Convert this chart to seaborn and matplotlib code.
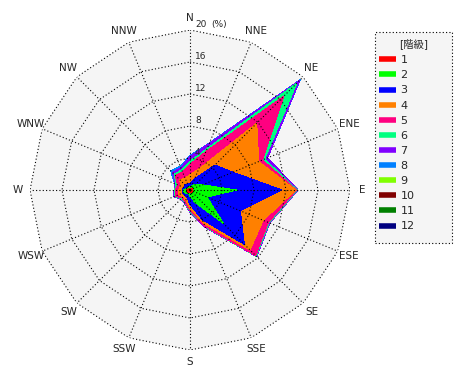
import numpy as np
import matplotlib
matplotlib.use("Agg")
import matplotlib.pyplot as plt
from matplotlib.lines import Line2D
from matplotlib.patches import Rectangle
import seaborn as sns

# 16 wind directions, clockwise from north
directions = ['N', 'NNE', 'NE', 'ENE', 'E', 'ESE', 'SE', 'SSE',
              'S', 'SSW', 'SW', 'WSW', 'W', 'WNW', 'NW', 'NNW']

# frequency (%) per class (stacked outward)
cls1 = [0.2, 0.2, 0.3, 0.3, 0.3, 0.3, 0.3, 0.3, 0.3, 0.3, 0.4, 0.5, 0.5, 0.3, 0.2, 0.2]
cls2 = [0.2, 0.4, 0.7, 1.4, 5.5, 2.0, 5.6, 1.4, 0.5, 0.2, 0.2, 0.3, 0.3, 0.2, 0.2, 0.2]
cls3 = [0.4, 0.9, 3.4, 4.1, 5.7, 4.5, 3.7, 2.3, 1.0, 0.5, 0.3, 0.2, 0.2, 0.3, 0.5, 0.4]
cls4 = [1.1, 1.3, 7.4, 3.5, 1.7, 3.1, 1.0, 0.5, 0.5, 0.4, 0.3, 0.5, 0.4, 0.5, 0.9, 0.8]
cls5 = [1.3, 2.4, 4.8, 0.5, 0.1, 0.7, 1.0, 0.4, 0.3, 0.2, 0.2, 0.5, 0.4, 0.4, 0.8, 0.8]
cls6 = [0.4, 0.4, 2.3, 0.3, 0.1, 0.1, 0.1, 0.1, 0.1, 0.1, 0.1, 0.1, 0.1, 0.2, 0.2, 0.3]
cls7 = [0.6, 0.7, 0.5, 0.4, 0.1, 0.1, 0.1, 0.1, 0.1, 0.1, 0.1, 0.1, 0.1, 0.1, 0.3, 0.3]
cls8 = [0.1, 0.1, 0.1, 0.0, 0.0, 0.0, 0.0, 0.0, 0.0, 0.0, 0.0, 0.0, 0.0, 0.1, 0.3, 0.2]
cls9 = [0.0] * 16
cls10 = [0.0] * 16
cls11 = [0.0] * 16
cls12 = [0.0] * 16

classes = ['1', '2', '3', '4', '5', '6', '7', '8', '9', '10', '11', '12']
freqs = [cls1, cls2, cls3, cls4, cls5, cls6, cls7, cls8, cls9, cls10, cls11, cls12]
colors = ['#ff0000', '#00ff00', '#0000ff', '#ff8000', '#ff0080', '#00ff80',
          '#8000ff', '#0080ff', '#80ff00', '#800000', '#008000', '#000080']
rings = [4, 8, 12, 16, 20]

sns.set_style("white")
plt.rcParams['font.family'] = ['DejaVu Sans', 'Noto Sans CJK JP']

fig = plt.figure(figsize=(4.7, 3.8), dpi=100)
ax = fig.add_axes([30 / 470, 30 / 380, 320 / 470, 320 / 380], projection='polar')
ax.set_theta_zero_location('N')
ax.set_theta_direction(-1)
ax.set_facecolor('none')
ax.grid(False)
ax.set_xticks([])
ax.set_yticks([])
ax.spines['polar'].set_visible(False)
ax.set_ylim(0, 20)

theta = np.deg2rad(np.arange(16) * 22.5)
theta_c = np.append(theta, theta[0])

# light grey plot area inside the outer ring
ax.fill(theta_c, [rings[-1]] * 17, color='#f5f5f5', lw=0, zorder=0)

# stacked polygons, outermost class drawn first
cum = np.cumsum(np.array(freqs), axis=0)
for i in range(len(classes) - 1, -1, -1):
    r = np.append(cum[i], cum[i][0])
    ax.fill(theta_c, r, color=colors[i], lw=0, zorder=1, antialiased=False)

# polygonal dotted grid
dots = (0, (1, 2))
for rv in rings:
    ax.plot(theta_c, [rv] * 17, color='black', lw=0.8, ls=dots, zorder=3)
for t in theta:
    ax.plot([t, t], [0, rings[-1]], color='black', lw=0.8, ls=dots, zorder=3)

for t, d in zip(theta, directions):
    ax.text(t, 21.5, d, ha='center', va='center', fontsize=7.5, clip_on=False)

for rv in rings:
    ax.annotate(str(rv), xy=(0, rv), xytext=(5, 1), textcoords='offset pixels',
                ha='left', va='bottom', fontsize=6.5, annotation_clip=False, zorder=4)
ax.annotate('(%)', xy=(0, 20), xytext=(21, 1), textcoords='offset pixels',
            ha='left', va='bottom', fontsize=6.5, annotation_clip=False)

# legend box
fig.patches.append(Rectangle((375 / 470, 1 - 243 / 380), 77 / 470, 211 / 380,
                             transform=fig.transFigure, facecolor='#f5f5f5',
                             edgecolor='black', lw=0.8, ls=dots, zorder=0))
fig.text(414 / 470, 1 - 44 / 380, '[階級]', ha='center', va='center', fontsize=7.5)
handles = [Line2D([], [], color=c, lw=4, solid_capstyle='butt') for c in colors]
leg = fig.legend(handles, classes, loc='upper left',
                 bbox_to_anchor=(377 / 470, 1 - 53 / 380), frameon=False,
                 fontsize=8, handlelength=1.5, handletextpad=0.4,
                 labelspacing=0.46, borderaxespad=0, borderpad=0.2)

plt.savefig("out.png", dpi=100)
